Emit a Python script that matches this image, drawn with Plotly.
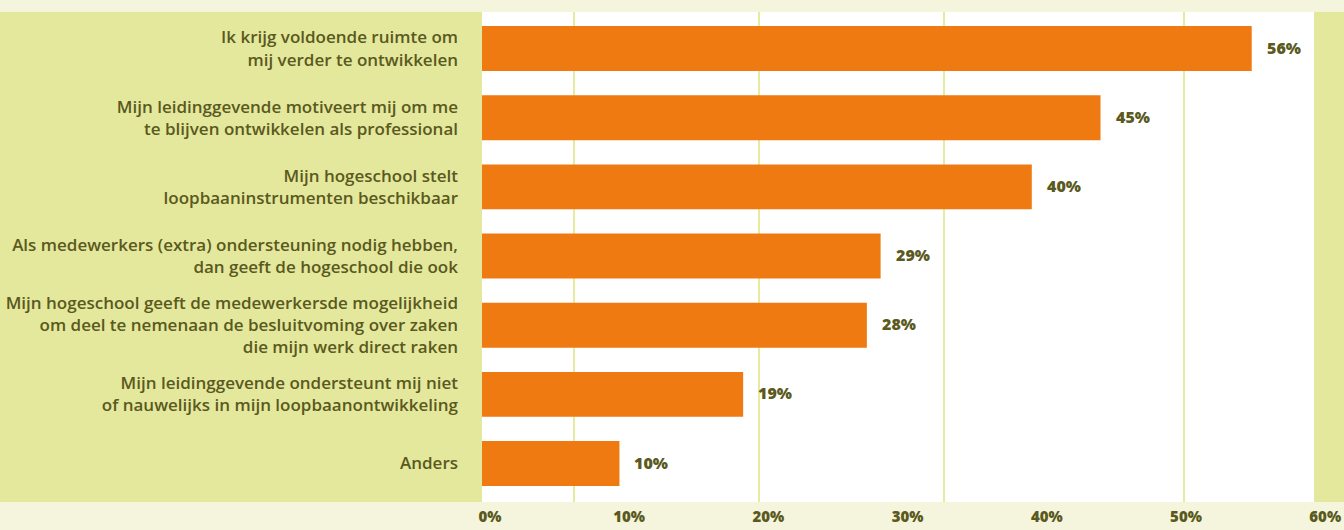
import plotly.graph_objects as go

# Survey answers (percentage of respondents who agree)
categories = [
    "Ik krijg voldoende ruimte om<br>mij verder te ontwikkelen",
    "Mijn leidinggevende motiveert mij om me<br>te blijven ontwikkelen als professional",
    "Mijn hogeschool stelt<br>loopbaaninstrumenten beschikbaar",
    "Als medewerkers (extra) ondersteuning nodig hebben,<br>dan geeft de hogeschool die ook",
    "Mijn hogeschool geeft de medewerkersde mogelijkheid<br>om deel te nemenaan de besluitvoming over zaken<br>die mijn werk direct raken",
    "Mijn leidinggevende ondersteunt mij niet<br>of nauwelijks in mijn loopbaanontwikkeling",
    "Anders",
]
values = [56, 45, 40, 29, 28, 19, 10]

tick_values = [0, 10, 20, 30, 40, 50, 60]
tick_labels = ["0%", "10%", "20%", "30%", "40%", "50%", "60%"]

# vertical guide positions on the value axis
grid_positions = [6.7, 20.15, 33.6, 51.05]

W, H = 1344, 530
ORANGE = "#ef7a12"
PANEL = "#e4e89c"
CREAM = "#f4f5dc"
GRID = "#e7eb9f"
TEXT = "#5a5920"
FONT = "Open Sans"

x0, x1 = 482, 1314      # white chart field, px
y_top, y_bot = 12, 502
PX_PER_PCT = 13.745

fig = go.Figure()
fig.add_trace(go.Bar(
    x=values,
    y=categories,
    orientation="h",
    marker=dict(color=ORANGE, line=dict(width=0)),
    width=0.65,
    hoverinfo="skip",
))
# empty companion trace so the percentage scale axis is drawn
fig.add_trace(go.Scatter(
    x=[None], y=[None], xaxis="x2", yaxis="y",
    mode="markers", hoverinfo="skip", showlegend=False,
))

# value labels next to each bar
for v, c in zip(values, categories):
    fig.add_annotation(
        x=v, y=c, xref="x", yref="y",
        text=f"{v}%", showarrow=False,
        xanchor="left", yanchor="middle", xshift=13, yshift=1,
        font=dict(family=FONT, size=16, color=TEXT, weight=800),
    )

# side panels
fig.add_shape(type="rect", xref="paper", yref="paper",
              x0=0, x1=x0 / W, y0=1 - y_bot / H, y1=1 - y_top / H,
              fillcolor=PANEL, line=dict(width=0), layer="below")
fig.add_shape(type="rect", xref="paper", yref="paper",
              x0=x1 / W, x1=1, y0=1 - y_bot / H, y1=1 - y_top / H,
              fillcolor=PANEL, line=dict(width=0), layer="above")

n = len(categories)
fig.update_layout(
    width=W, height=H,
    margin=dict(l=0, r=0, t=0, b=0, pad=0),
    paper_bgcolor=CREAM,
    plot_bgcolor="white",
    showlegend=False,
    bargap=0.35,
    font=dict(family=FONT, color=TEXT),
    xaxis=dict(
        domain=[x0 / W, 1.0],
        range=[0, (W - x0) / PX_PER_PCT],
        tickvals=grid_positions,
        showticklabels=False,
        showgrid=True, gridcolor=GRID, gridwidth=2,
        zeroline=False, showline=False, ticks="",
        automargin=False,
        fixedrange=True,
    ),
    xaxis2=dict(
        overlaying="x",
        side="bottom",
        anchor="y",
        range=[-0.575, 61.35],
        tickvals=tick_values,
        ticktext=tick_labels,
        showgrid=False, zeroline=False, showline=False, ticks="",
        ticklabelstandoff=4,
        tickfont=dict(family=FONT, size=15, color=TEXT, weight=800),
        automargin=False,
        fixedrange=True,
    ),
    yaxis=dict(
        domain=[1 - y_bot / H, 1 - y_top / H],
        type="category",
        categoryorder="array", categoryarray=categories,
        range=[n - 0.444, -0.528],
        showgrid=False, zeroline=False, showline=False, ticks="",
        ticklabelstandoff=23,
        tickfont=dict(family=FONT, size=17, color=TEXT, weight=600),
        automargin=False,
        fixedrange=True,
    ),
)

fig.write_html("out.html")
